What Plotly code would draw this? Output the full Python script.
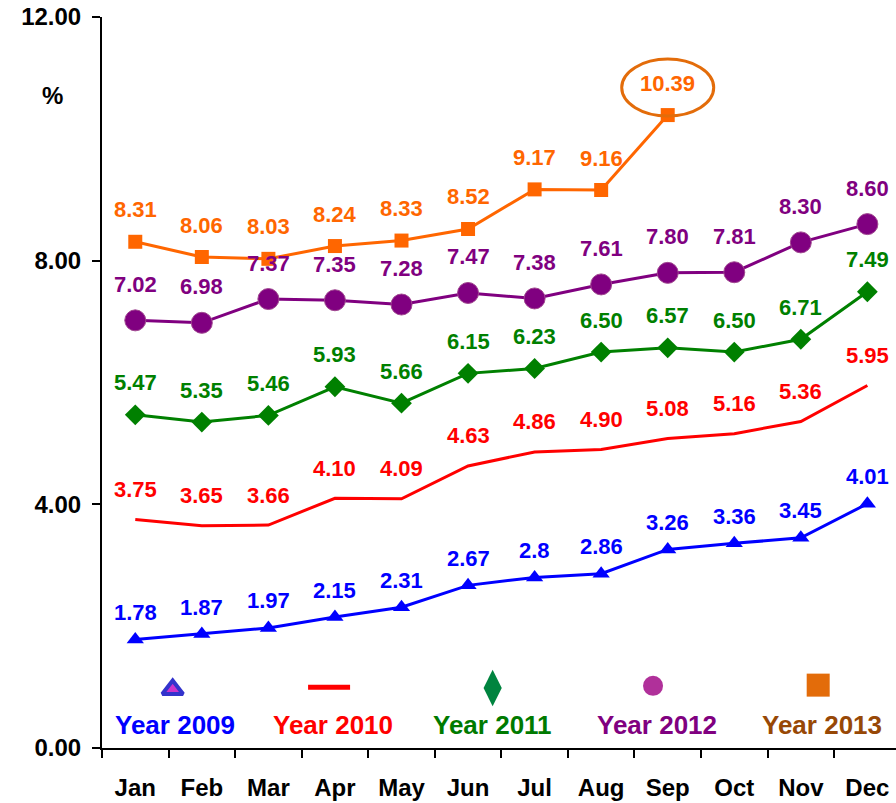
import plotly.graph_objects as go

months = ["Jan", "Feb", "Mar", "Apr", "May", "Jun",
          "Jul", "Aug", "Sep", "Oct", "Nov", "Dec"]

y2009 = [1.78, 1.87, 1.97, 2.15, 2.31, 2.67, 2.8, 2.86, 3.26, 3.36, 3.45, 4.01]
y2010 = [3.75, 3.65, 3.66, 4.10, 4.09, 4.63, 4.86, 4.90, 5.08, 5.16, 5.36, 5.95]
y2011 = [5.47, 5.35, 5.46, 5.93, 5.66, 6.15, 6.23, 6.50, 6.57, 6.50, 6.71, 7.49]
y2012 = [7.02, 6.98, 7.37, 7.35, 7.28, 7.47, 7.38, 7.61, 7.80, 7.81, 8.30, 8.60]
y2013 = [8.31, 8.06, 8.03, 8.24, 8.33, 8.52, 9.17, 9.16, 10.39]

years = ["Year 2009", "Year 2010", "Year 2011", "Year 2012", "Year 2013"]
yticks = [0, 4, 8, 12]

FONT = "Liberation Sans, Arial, sans-serif"

# name, values, line colour, marker, label colour, label lift (px), label format
series = [
    (years[0], y2009, "#0000FF", dict(symbol="triangle-up", size=15, color="#0000FF"), "#0000FF", 27, "%g"),
    (years[1], y2010, "#FF0000", None, "#FF0000", 30, "%.2f"),
    (years[2], y2011, "#008000", dict(symbol="diamond", size=16, color="#008000"), "#008000", 32, "%.2f"),
    (years[3], y2012, "#800080", dict(symbol="circle", size=21, color="#800080",
                                      line=dict(color="#A04890", width=1)), "#800080", 36, "%.2f"),
    (years[4], y2013, "#FF6600", dict(symbol="square", size=14, color="#FF6600"), "#FF6600", 32, "%.2f"),
]

fig = go.Figure()
annotations = []

for name, vals, col, mk, lcol, lift, fmt in series:
    x = months[:len(vals)]
    fig.add_trace(go.Scatter(
        x=x, y=vals, name=name,
        mode="lines+markers" if mk else "lines",
        line=dict(color=col, width=3),
        marker=mk, showlegend=False, cliponaxis=False))
    for xi, v in zip(x, vals):
        annotations.append(dict(
            x=xi, y=v, text="<b>" + fmt % v + "</b>",
            showarrow=False, yshift=lift, yanchor="middle", xanchor="center",
            font=dict(family=FONT, size=22, color=lcol)))

# legend keys drawn inside the plot, symbol above the text
key_x = [0.089, 0.286, 0.492, 0.694, 0.902]
key_y = [0.080, 0.083, 0.082, 0.085, 0.086]
key_sym = ["triangle-up", "line-ew", "diamond-tall", "circle", "square"]
key_col = ["#CC33CC", "#FF0000", "#00843F", "#B0309A", "#E36C0A"]
key_line = ["#3333CC", "#FF0000", "#00843F", "#B0309A", "#E36C0A"]
key_size = [18, 30, 26, 20, 23]
key_lw = [4, 5, 0, 0, 0]
text_x = [0.092, 0.291, 0.492, 0.699, 0.907]
text_col = ["#0000FF", "#FF0000", "#007A00", "#800080", "#974806"]

for i in range(len(years)):
    fig.add_trace(go.Scatter(
        x=[key_x[i]], y=[key_y[i]], xaxis="x2", yaxis="y2", mode="markers",
        marker=dict(symbol=key_sym[i], size=key_size[i], color=key_col[i],
                    line=dict(color=key_line[i], width=key_lw[i])),
        showlegend=False, hoverinfo="skip"))
    annotations.append(dict(
        x=text_x[i], y=0.032, xref="paper", yref="paper", showarrow=False,
        text="<b>%s</b>" % years[i], yanchor="middle", xanchor="center",
        font=dict(family=FONT, size=26, color=text_col[i])))

annotations.append(dict(
    x=-0.062, y=0.892, xref="paper", yref="paper", showarrow=False,
    text="<b>%</b>", xanchor="center", yanchor="middle",
    font=dict(family=FONT, size=24, color="black")))

fig.add_shape(type="circle", xref="x", yref="y",
              xsizemode="pixel", ysizemode="pixel",
              xanchor=8, yanchor=y2013[8],
              x0=-46, x1=46, y0=-1, y1=56,
              line=dict(color="#E36C0A", width=3))

fig.update_layout(
    width=896, height=803,
    margin=dict(l=102, r=0, t=17, b=55),
    paper_bgcolor="white", plot_bgcolor="white",
    annotations=annotations,
    xaxis=dict(
        type="category", range=[-0.5, 11.43],
        showline=True, linecolor="black", linewidth=2,
        ticks="outside", tickson="boundaries", ticklen=8, tickwidth=2, tickcolor="black",
        showgrid=False, ticklabelstandoff=17,
        tickfont=dict(family=FONT, size=24, color="black", weight="bold")),
    yaxis=dict(
        range=[0, 12], tickvals=yticks, tickformat=".2f",
        showline=True, linecolor="black", linewidth=2,
        ticks="outside", ticklen=8, tickwidth=2, tickcolor="black",
        showgrid=False, zeroline=False, ticklabelstandoff=6,
        tickfont=dict(family=FONT, size=24, color="black", weight="bold")),
    xaxis2=dict(overlaying="x", range=[0, 1], visible=False),
    yaxis2=dict(overlaying="y", range=[0, 1], visible=False),
)

fig.write_html("out.html", config={"displayModeBar": False},
               post_script="document.body.style.margin='0';")
